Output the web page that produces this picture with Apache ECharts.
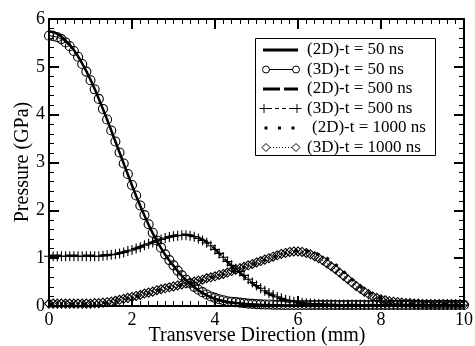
<!DOCTYPE html>
<html>
<head>
<meta charset="utf-8">
<script src="https://cdn.jsdelivr.net/npm/echarts@6/dist/echarts.min.js"></script>
<style>html,body{margin:0;padding:0;background:#fff}#c{width:475px;height:346px}</style>
</head>
<body>
<div id="c"></div>
<script>
const xs = [0,0.1,0.2,0.3,0.4,0.5,0.6,0.7,0.8,0.9,1,1.1,1.2,1.3,1.4,1.5,1.6,1.7,1.8,1.9,2,2.1,2.2,2.3,2.4,2.5,2.6,2.7,2.8,2.9,3,3.1,3.2,3.3,3.4,3.5,3.6,3.7,3.8,3.9,4,4.1,4.2,4.3,4.4,4.5,4.6,4.7,4.8,4.9,5,5.1,5.2,5.3,5.4,5.5,5.6,5.7,5.8,5.9,6,6.1,6.2,6.3,6.4,6.5,6.6,6.7,6.8,6.9,7,7.1,7.2,7.3,7.4,7.5,7.6,7.7,7.8,7.9,8,8.1,8.2,8.3,8.4,8.5,8.6,8.7,8.8,8.9,9,9.1,9.2,9.3,9.4,9.5,9.6,9.7,9.8,9.9,10];

const seriesNames = ['(2D)-t = 50 ns','(3D)-t = 50 ns','(2D)-t = 500 ns','(3D)-t = 500 ns','(2D)-t = 1000 ns','(3D)-t = 1000 ns'];
const xTitle = 'Transverse Direction (mm)';
const yTitle = 'Pressure (GPa)';

const p2d50 = [5.74,5.73,5.69,5.63,5.55,5.46,5.35,5.22,5.07,4.91,4.73,
4.54,4.33,4.12,3.90,3.67,3.44,3.21,2.98,2.75,2.52,
2.30,2.09,1.89,1.70,1.52,1.36,1.21,1.07,0.95,0.84,
0.73,0.63,0.54,0.46,0.39,0.33,0.27,0.22,0.18,0.15,
0.12,0.10,0.08,0.07,0.06,0.05,0.04,0.035,0.03,0.025,
0.02,0.02,0.02,0.015,0.015,0.015,0.01,0.01,0.01,0.01,
0.01,0.01,0.01,0.01,0.01,0.01,0.01,0.01,0.01,0.01,
0.01,0.01,0.01,0.01,0.01,0.01,0.01,0.01,0.01,0.01,
0.01,0.01,0.01,0.01,0.01,0.01,0.01,0.01,0.01,0.01,
0.01,0.01,0.01,0.01,0.01,0.01,0.01,0.01,0.01,0.01];

const p3d50 = [5.65,5.64,5.62,5.58,5.51,5.43,5.33,5.21,5.06,4.90,4.72,
4.53,4.33,4.12,3.90,3.67,3.44,3.21,2.98,2.76,2.53,
2.31,2.10,1.90,1.71,1.53,1.37,1.22,1.08,0.96,0.85,
0.74,0.64,0.55,0.47,0.40,0.34,0.29,0.24,0.20,0.17,
0.14,0.12,0.10,0.09,0.08,0.07,0.06,0.05,0.045,0.04,
0.035,0.03,0.03,0.025,0.025,0.02,0.02,0.02,0.02,0.02,
0.02,0.02,0.02,0.02,0.02,0.02,0.02,0.02,0.02,0.02,
0.02,0.02,0.02,0.02,0.02,0.02,0.02,0.02,0.02,0.02,
0.02,0.02,0.02,0.02,0.02,0.02,0.02,0.02,0.02,0.02,
0.02,0.02,0.02,0.02,0.02,0.02,0.02,0.02,0.02,0.02];

const p2d500 = [1.05,1.05,1.05,1.05,1.05,1.05,1.05,1.05,1.05,1.05,1.05,
1.05,1.05,1.06,1.06,1.07,1.09,1.11,1.13,1.15,1.18,
1.21,1.24,1.27,1.30,1.34,1.37,1.40,1.43,1.45,1.47,
1.48,1.49,1.49,1.48,1.46,1.43,1.39,1.34,1.27,1.19,
1.10,1.01,0.92,0.84,0.77,0.70,0.62,0.54,0.47,0.41,
0.35,0.30,0.25,0.21,0.17,0.14,0.11,0.09,0.07,0.06,
0.05,0.04,0.035,0.03,0.03,0.025,0.025,0.02,0.02,0.02,
0.02,0.02,0.02,0.02,0.02,0.02,0.02,0.02,0.02,0.02,
0.02,0.02,0.02,0.02,0.02,0.02,0.02,0.02,0.02,0.02,
0.02,0.02,0.02,0.02,0.02,0.02,0.02,0.02,0.02,0.02];

const p3d500 = [1.04,1.04,1.04,1.04,1.04,1.04,1.04,1.04,1.04,1.04,1.04,
1.04,1.04,1.05,1.06,1.07,1.08,1.10,1.12,1.15,1.17,
1.20,1.23,1.27,1.30,1.33,1.36,1.39,1.42,1.44,1.46,
1.47,1.48,1.48,1.47,1.45,1.41,1.37,1.32,1.26,1.18,
1.10,1.02,0.93,0.85,0.78,0.72,0.64,0.56,0.49,0.43,
0.37,0.32,0.27,0.23,0.19,0.16,0.13,0.11,0.09,0.08,
0.07,0.06,0.05,0.045,0.04,0.04,0.035,0.035,0.03,0.03,
0.03,0.03,0.03,0.03,0.03,0.03,0.03,0.03,0.03,0.03,
0.025,0.025,0.025,0.025,0.025,0.025,0.025,0.025,0.025,0.025,
0.02,0.02,0.02,0.02,0.02,0.02,0.02,0.02,0.02,0.02];

const p2d1000 = [0.04,0.04,0.04,0.04,0.04,0.04,0.04,0.04,0.04,0.04,0.04,
0.05,0.05,0.06,0.07,0.08,0.10,0.12,0.14,0.16,0.18,
0.20,0.22,0.25,0.27,0.29,0.32,0.34,0.36,0.38,0.40,
0.42,0.44,0.46,0.48,0.50,0.52,0.54,0.57,0.59,0.61,
0.64,0.66,0.69,0.72,0.75,0.78,0.81,0.84,0.87,0.90,
0.93,0.96,0.99,1.02,1.05,1.08,1.11,1.13,1.15,1.16,
1.16,1.15,1.13,1.11,1.08,1.04,1.00,0.94,0.87,0.80,
0.72,0.64,0.56,0.48,0.41,0.34,0.28,0.23,0.18,0.15,
0.12,0.10,0.08,0.07,0.06,0.05,0.05,0.04,0.04,0.03,
0.03,0.03,0.03,0.03,0.03,0.03,0.03,0.03,0.03,0.03];

const p3d1000 = [0.05,0.05,0.05,0.05,0.05,0.05,0.05,0.05,0.05,0.05,0.05,
0.06,0.06,0.07,0.08,0.09,0.11,0.13,0.15,0.17,0.19,
0.21,0.23,0.26,0.28,0.30,0.33,0.35,0.37,0.39,0.41,
0.43,0.45,0.47,0.49,0.51,0.53,0.55,0.58,0.60,0.62,
0.65,0.67,0.70,0.73,0.76,0.79,0.82,0.85,0.88,0.91,
0.94,0.97,1.00,1.03,1.06,1.09,1.11,1.13,1.14,1.14,
1.13,1.11,1.08,1.04,1.00,0.95,0.89,0.83,0.77,0.70,
0.63,0.56,0.49,0.42,0.36,0.30,0.25,0.20,0.17,0.14,
0.12,0.10,0.09,0.08,0.07,0.06,0.06,0.05,0.05,0.04,
0.04,0.04,0.04,0.04,0.04,0.04,0.04,0.04,0.04,0.04];

const xTicks = [0,2,4,6,8,10];
const yTicks = [0,1,2,3,4,5,6];

const FONT = '"Liberation Serif", "Times New Roman", serif';
const pairs = arr => xs.map((x, i) => [x, arr[i]]);
const PLUS = 'path://M0,5L10,5M5,0L5,10';

const chart = echarts.init(document.getElementById('c'), null, {renderer: 'canvas'});

function axisCommon(isX, pos, showLabel) {
  return {
    type: 'value',
    position: pos,
    min: isX ? xTicks[0] : yTicks[0],
    max: isX ? xTicks[xTicks.length - 1] : yTicks[yTicks.length - 1],
    interval: isX ? 2 : 1,
    axisLine: {show: true, onZero: false, lineStyle: {color: '#000', width: 2}},
    axisTick: {show: true, inside: true, length: 10, lineStyle: {color: '#000', width: 2}},
    minorTick: {show: true, splitNumber: isX ? 10 : 5, length: 5, lineStyle: {color: '#000', width: 1}},
    splitLine: {show: false},
    minorSplitLine: {show: false},
    axisLabel: {show: showLabel, color: '#000', fontFamily: FONT, fontSize: 18, margin: isX ? 5 : 4,
      showMinLabel: true, showMaxLabel: true},
  };
}

const series = [
  {name: seriesNames[0], type: 'line', data: pairs(p2d50), showSymbol: false, symbol: 'none',
   lineStyle: {color: '#000', width: 2.5}, z: 2},
  {name: seriesNames[2], type: 'line', data: pairs(p2d500), showSymbol: false, symbol: 'none',
   lineStyle: {color: '#000', width: 2.5, type: [12, 5]}, z: 2},
  {name: seriesNames[4], type: 'line', data: pairs(p2d1000), showSymbol: false, symbol: 'none',
   lineStyle: {color: '#000', width: 3, type: [3, 8], cap: 'butt'}, z: 2},
  {name: seriesNames[1], type: 'line', data: pairs(p3d50), symbol: 'circle', symbolSize: 9, showAllSymbol: true,
   lineStyle: {color: '#000', width: 1},
   itemStyle: {color: 'rgba(0,0,0,0)', borderColor: '#000', borderWidth: 1.1}, z: 3},
  {name: seriesNames[3], type: 'line', data: pairs(p3d500), symbol: PLUS, symbolSize: 10, showAllSymbol: true,
   lineStyle: {color: '#000', width: 1, type: [4, 3]},
   itemStyle: {color: 'rgba(0,0,0,0)', borderColor: '#000', borderWidth: 1.1}, z: 3},
  {name: seriesNames[5], type: 'line', data: pairs(p3d1000), symbol: 'diamond', symbolSize: 9, showAllSymbol: true,
   lineStyle: {color: '#000', width: 1, type: [1, 2]},
   itemStyle: {color: 'rgba(0,0,0,0)', borderColor: '#000', borderWidth: 1.1}, z: 3}
];

// Legend drawn as graphic elements (symbols at both ends as in the reference)
const LX = 255, LY = 38, LW = 180, LH = 117;
const rowY = [50, 69.5, 89, 108.5, 128, 147.5];
const textX = [307, 307, 307, 307, 312, 307];
const g = [{type: 'rect', shape: {x: LX + 0.5, y: LY + 0.5, width: LW, height: LH},
  style: {fill: '#fff', stroke: '#000', lineWidth: 1}, z: 100}];
function lineEl(y, x1, x2, w, dash) {
  return {type: 'line', shape: {x1: x1, y1: y, x2: x2, y2: y}, style: {stroke: '#000', lineWidth: w, lineDash: dash || null}, z: 101};
}
function circ(x, y) { return {type: 'circle', shape: {cx: x, cy: y, r: 3.5}, style: {fill: 'none', stroke: '#000', lineWidth: 1}, z: 102}; }
function plus(x, y) { return {type: 'polyline', shape: {points: [[x-4.5,y],[x+4.5,y]]}, style: {stroke:'#000', lineWidth:1}, z:102}; }
function plusV(x, y) { return {type: 'polyline', shape: {points: [[x,y-4.5],[x,y+4.5]]}, style: {stroke:'#000', lineWidth:1}, z:102}; }
function diam(x, y) { return {type: 'polygon', shape: {points: [[x,y-4],[x+4,y],[x,y+4],[x-4,y]]}, style: {fill:'none', stroke:'#000', lineWidth:1}, z:102}; }
function dot(x, y) { return {type: 'rect', shape: {x: x-1.5, y: y-1.5, width: 3, height: 3}, style: {fill:'#000'}, z:102}; }

g.push(lineEl(rowY[0], 263, 298, 3));
g.push(lineEl(rowY[1], 269, 293, 1), circ(266, rowY[1]), circ(296, rowY[1]));
g.push(lineEl(rowY[2], 263, 298, 3, [17, 4]));
g.push(lineEl(rowY[3], 268, 293, 1, [4, 3]), plus(264, rowY[3]), plusV(264, rowY[3]), plus(297, rowY[3]), plusV(297, rowY[3]));
g.push(dot(266, rowY[4]), dot(279.5, rowY[4]), dot(293, rowY[4]));
g.push(lineEl(rowY[5], 270, 292, 1, [1, 2]), diam(266, rowY[5]), diam(296, rowY[5]));
seriesNames.forEach((n, i) => {
  g.push({type: 'text', x: textX[i], y: rowY[i], style: {text: n, fill: '#000', font: '17px ' + FONT, textVerticalAlign: 'middle', verticalAlign: 'middle'}, z: 103});
});

// Axis titles
g.push({type: 'text', x: 257, y: 336, style: {text: xTitle, fill: '#000', font: '20px ' + FONT, align: 'center', verticalAlign: 'middle'}, z: 50});
g.push({type: 'text', x: 23, y: 162, rotation: Math.PI / 2, style: {text: yTitle, fill: '#000', font: '20px ' + FONT, align: 'center', verticalAlign: 'middle'}, z: 50});

chart.setOption({
  animation: false,
  backgroundColor: '#fff',
  grid: {left: 49, right: 11, top: 19, bottom: 40, containLabel: false, outerBoundsMode: 'none'},
  xAxis: [axisCommon(true, 'bottom', true), axisCommon(true, 'top', false)],
  yAxis: [axisCommon(false, 'left', true), axisCommon(false, 'right', false)],
  series: series,
  graphic: g
});
</script>
</body>
</html>
